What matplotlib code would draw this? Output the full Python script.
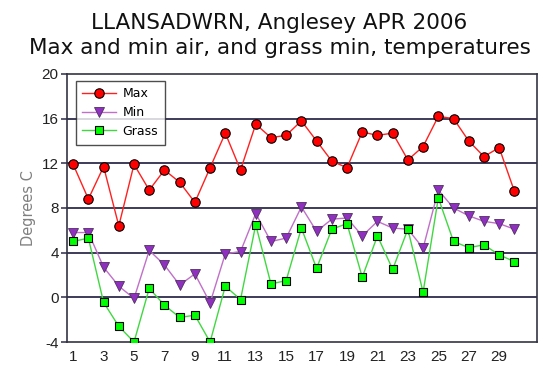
import matplotlib
matplotlib.use("Agg")
import matplotlib.pyplot as plt

plt.rcParams["axes.unicode_minus"] = False

days = list(range(1, 31))
max_t = [11.9, 8.8, 11.7, 6.4, 11.9, 9.6, 11.4, 10.3, 8.5, 11.6,
         14.7, 11.4, 15.5, 14.3, 14.5, 15.8, 14.0, 12.2, 11.6, 14.8,
         14.5, 14.7, 12.3, 13.5, 16.2, 16.0, 14.0, 12.6, 13.4, 9.5]
min_t = [5.8, 5.8, 2.7, 1.0, -0.1, 4.2, 2.9, 1.1, 2.1, -0.5,
         3.9, 4.1, 7.5, 5.0, 5.3, 8.1, 5.9, 7.0, 7.1, 5.5,
         6.8, 6.2, 6.1, 4.4, 9.6, 8.0, 7.3, 6.8, 6.6, 6.1]
grass_t = [5.0, 5.3, -0.45, -2.6, -4.0, 0.8, -0.7, -1.8, -1.6, -4.0,
           1.0, -0.2, 6.5, 1.2, 1.5, 6.2, 2.6, 6.1, 6.6, 1.8,
           5.5, 2.5, 6.1, 0.45, 8.9, 5.0, 4.45, 4.7, 3.8, 3.2]
x_ticks = list(range(1, 30, 2))
y_ticks = [-4, 0, 4, 8, 12, 16, 20]
title = "LLANSADWRN, Anglesey APR 2006\nMax and min air, and grass min, temperatures"

fig = plt.figure(figsize=(5.59, 3.76), dpi=100)
ax = fig.add_axes([0.12, 0.0904, 0.841, 0.713])

for yv in y_ticks[1:-1]:
    ax.axhline(yv, color="#3c3c5a", lw=1.4, zorder=1)

ax.plot(days, max_t, color="#ff2020", lw=1.0, marker="o", ms=6.8,
        mfc="#ff0000", mec="#000000", mew=0.8, label="Max", zorder=4)
ax.plot(days, min_t, color="#c070c8", lw=1.0, marker="v", ms=6.8,
        mfc="#9030c0", mec="#503060", mew=0.6, label="Min", zorder=3)
ax.plot(days, grass_t, color="#40d840", lw=1.0, marker="s", ms=6.3,
        mfc="#00ff00", mec="#000000", mew=0.8, label="Grass", zorder=3)

ax.set_xlim(0.6, 31.5)
ax.set_ylim(-4, 20)
ax.set_xticks(x_ticks)
ax.set_yticks(y_ticks)
ax.tick_params(axis="x", length=0, pad=6, labelsize=11, colors="#222222")
ax.tick_params(axis="y", length=4, width=1.2, color="#3c3c5a", pad=2,
               labelsize=11, colors="#222222")
for lab in ax.get_xticklabels() + ax.get_yticklabels():
    lab.set_family("Liberation Sans")
for s in ["top", "right", "left", "bottom"]:
    ax.spines[s].set_color("#333344")
    ax.spines[s].set_linewidth(1.2)

ax.set_ylabel("Degrees C", color="#808080", fontsize=10.5, labelpad=4)

leg = ax.legend(loc="upper left", bbox_to_anchor=(0.018, 0.975), fontsize=9,
                frameon=True, fancybox=False, edgecolor="#222222",
                borderpad=0.55, labelspacing=0.45, handlelength=2.7,
                handletextpad=0.5, borderaxespad=0)
leg.get_frame().set_linewidth(1.0)

fig.text(0.5, 0.965, title, ha="center", va="top", fontsize=15.5,
         linespacing=1.3, color="#111111")

fig.savefig("out.png", dpi=100)
